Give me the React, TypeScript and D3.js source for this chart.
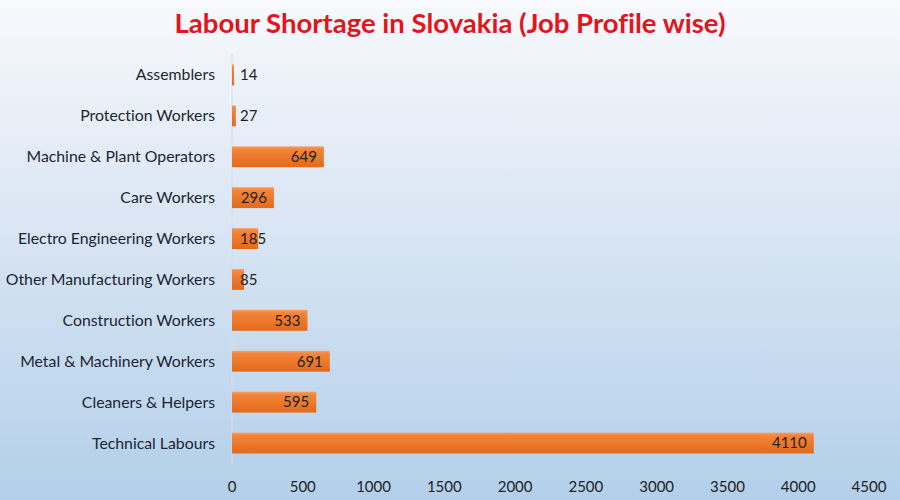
import { useEffect, useRef } from "react"
import * as d3 from "d3"

const categories = [
  "Assemblers",
  "Protection Workers",
  "Machine & Plant Operators",
  "Care Workers",
  "Electro Engineering Workers",
  "Other Manufacturing Workers",
  "Construction Workers",
  "Metal & Machinery Workers",
  "Cleaners & Helpers",
  "Technical Labours",
]
const shortages = [14, 27, 649, 296, 185, 85, 533, 691, 595, 4110]
const xTicks = [0, 500, 1000, 1500, 2000, 2500, 3000, 3500, 4000, 4500]

const FONT = "Lato, 'Open Sans', sans-serif"

export default function App() {
  const svgRef = useRef(null)

  useEffect(() => {
    const width = 900
    const height = 500
    const svg = d3
      .select(svgRef.current)
      .attr("width", width)
      .attr("height", height)
      .style("font-variant-ligatures", "none")
    svg.selectAll("*").remove()

    const defs = svg.append("defs")
    const bg = defs
      .append("linearGradient")
      .attr("id", "bg-grad")
      .attr("x1", 0)
      .attr("y1", 0)
      .attr("x2", 0)
      .attr("y2", 1)
    bg.append("stop").attr("offset", "0%").attr("stop-color", "#f7f9fc")
    bg.append("stop").attr("offset", "25%").attr("stop-color", "#e7eef7")
    bg.append("stop").attr("offset", "100%").attr("stop-color", "#b3cfea")

    const barGrad = defs
      .append("linearGradient")
      .attr("id", "bar-grad")
      .attr("x1", 0)
      .attr("y1", 0)
      .attr("x2", 0)
      .attr("y2", 1)
    barGrad.append("stop").attr("offset", "0%").attr("stop-color", "#f7a064")
    barGrad.append("stop").attr("offset", "15%").attr("stop-color", "#f38439")
    barGrad.append("stop").attr("offset", "100%").attr("stop-color", "#e36a19")

    svg.append("rect").attr("width", width).attr("height", height).attr("fill", "url(#bg-grad)")

    svg
      .append("text")
      .attr("x", 450)
      .attr("y", 33)
      .attr("text-anchor", "middle")
      .attr("font-family", FONT)
      .attr("font-weight", "bold")
      .attr("font-size", 27.5)
      .attr("fill", "#e3141b")
      .text("Labour Shortage in Slovakia (Job Profile wise)")

    const x = d3.scaleLinear().domain([0, 4500]).range([232, 869])
    const y = d3.scaleBand().domain(categories).range([54.5, 463.5]).paddingInner(0.49).paddingOuter(0.245)

    // vertical axis line
    svg
      .append("line")
      .attr("x1", x(0))
      .attr("x2", x(0))
      .attr("y1", 54)
      .attr("y2", 464)
      .attr("stroke", "#d6dde6")
      .attr("stroke-width", 1)

    // category labels
    svg
      .append("g")
      .selectAll("text")
      .data(categories)
      .enter()
      .append("text")
      .attr("x", 215)
      .attr("y", (d) => y(d) + y.bandwidth() / 2)
      .attr("dy", "0.35em")
      .attr("text-anchor", "end")
      .attr("font-family", FONT)
      .attr("font-size", 15.8)
      .attr("fill", "#1c2633")
      .text((d) => d)

    const data = categories.map((c, i) => ({ c, v: shortages[i] }))

    svg
      .append("g")
      .selectAll("rect")
      .data(data)
      .enter()
      .append("rect")
      .attr("x", x(0))
      .attr("y", (d) => y(d.c))
      .attr("width", (d) => x(d.v) - x(0))
      .attr("height", y.bandwidth())
      .attr("fill", "url(#bar-grad)")

    // value labels: inside end, but never left of the bar start + 8
    const labels = svg
      .append("g")
      .selectAll("text")
      .data(data)
      .enter()
      .append("text")
      .attr("y", (d) => y(d.c) + y.bandwidth() / 2)
      .attr("dy", "0.35em")
      .attr("font-family", FONT)
      .attr("font-size", 15)
      .attr("fill", "#222")
      .text((d) => d.v)
    labels.each(function (d) {
      const w = (this as SVGTextElement).getComputedTextLength()
      d3.select(this).attr("x", Math.max(x(d.v) - 7 - w, x(0) + 8))
    })

    // x tick labels
    svg
      .append("g")
      .selectAll("text")
      .data(xTicks)
      .enter()
      .append("text")
      .attr("x", (d) => x(d))
      .attr("y", 487)
      .attr("dy", "0.35em")
      .attr("text-anchor", "middle")
      .attr("font-family", FONT)
      .attr("font-size", 15)
      .attr("fill", "#222")
      .text((d) => d)
  }, [])

  return (
    <div style={{ position: "fixed", left: 0, top: 0, width: 900, height: 500 }}>
      <svg ref={svgRef} style={{ display: "block" }}></svg>
    </div>
  )
}
